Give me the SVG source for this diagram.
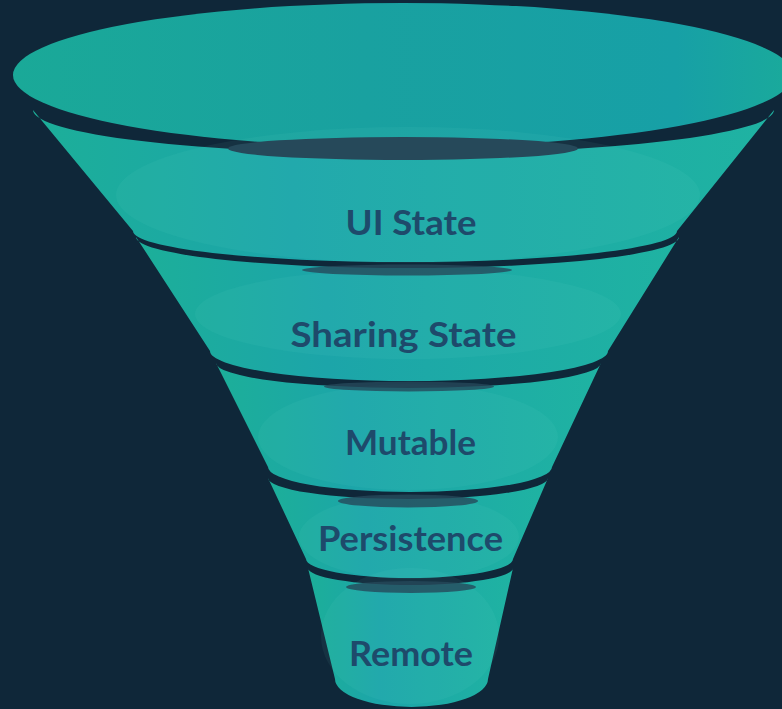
<svg xmlns="http://www.w3.org/2000/svg" width="782" height="709" viewBox="0 0 782 709">
  <defs>
    <linearGradient id="gTop" x1="0" y1="0" x2="1" y2="0">
      <stop offset="0" stop-color="#1aa998"/>
      <stop offset="0.45" stop-color="#19a1a0"/>
      <stop offset="0.85" stop-color="#17a0a6"/>
      <stop offset="1" stop-color="#1aaa9b"/>
    </linearGradient>
    <linearGradient id="gBody" x1="0" y1="0" x2="1" y2="0">
      <stop offset="0" stop-color="#1caf99"/>
      <stop offset="0.35" stop-color="#1ca5a9"/>
      <stop offset="1" stop-color="#1fb3a2"/>
    </linearGradient>
    <style>
      .body { fill: url(#gBody); }
      .glow { fill: #8ff0e2; fill-opacity: 0.06; }
      .hole { fill: #26495a; }
      .hole.soft { fill-opacity: 0.8; }
      .label { font-family: "Lato", "Liberation Sans", sans-serif; font-weight: 700; font-size: 34px; fill: #1e4a6b; text-anchor: middle; }
    </style>
  </defs>
  <rect width="782" height="709" fill="#0f2739"/>
  <g id="funnel-top">
    <ellipse cx="403" cy="75" rx="390" ry="72" fill="url(#gTop)"/>
  </g>
  <g id="ui-state">
    <path class="body" d="M33,110 A370.5,44 0 0 0 774,110 L677,231 A272,31 0 0 1 133,231 Z"/>
    <ellipse class="glow" cx="408" cy="195" rx="292" ry="68"/>
    <ellipse class="hole" cx="403" cy="148.5" rx="175" ry="11.5"/>
    <text class="label" x="411" y="235" textLength="131" lengthAdjust="spacingAndGlyphs">UI State</text>
  </g>
  <g id="sharing-state">
    <path class="body" d="M136,237 A271.5,31 0 0 0 679,237 L608,351 A199,30 0 0 1 210,351 Z"/>
    <ellipse class="glow" cx="408" cy="314" rx="213" ry="45"/>
    <ellipse class="hole soft" cx="407" cy="270" rx="105" ry="5.5"/>
    <text class="label" x="403.5" y="347" textLength="226" lengthAdjust="spacingAndGlyphs">Sharing State</text>
  </g>
  <g id="mutable">
    <path class="body" d="M216,363 A192.5,25 0 0 0 601,363 L552,467 A142,25 0 0 1 268,467 Z"/>
    <ellipse class="glow" cx="408" cy="437" rx="150" ry="53"/>
    <ellipse class="hole soft" cx="409" cy="386.5" rx="85" ry="5"/>
    <text class="label" x="410.5" y="455" textLength="131" lengthAdjust="spacingAndGlyphs">Mutable</text>
  </g>
  <g id="persistence">
    <path class="body" d="M268,478 A140,21 0 0 0 548,478 L513,559 A103.5,19 0 0 1 306,559 Z"/>
    <ellipse class="glow" cx="409" cy="537" rx="110" ry="42"/>
    <ellipse class="hole soft" cx="408" cy="501" rx="70" ry="6.5"/>
    <text class="label" x="410.5" y="551" textLength="185" lengthAdjust="spacingAndGlyphs">Persistence</text>
  </g>
  <g id="remote">
    <path class="body" d="M308,568 A102.5,17 0 0 0 513,568 L488,679 A76.5,28 0 0 1 335,679 Z"/>
    <ellipse class="glow" cx="410" cy="636" rx="89" ry="68"/>
    <ellipse class="hole soft" cx="411" cy="587" rx="65" ry="6"/>
    <text class="label" x="411" y="666" textLength="124" lengthAdjust="spacingAndGlyphs">Remote</text>
  </g>
  <g id="connectors"/>
</svg>
